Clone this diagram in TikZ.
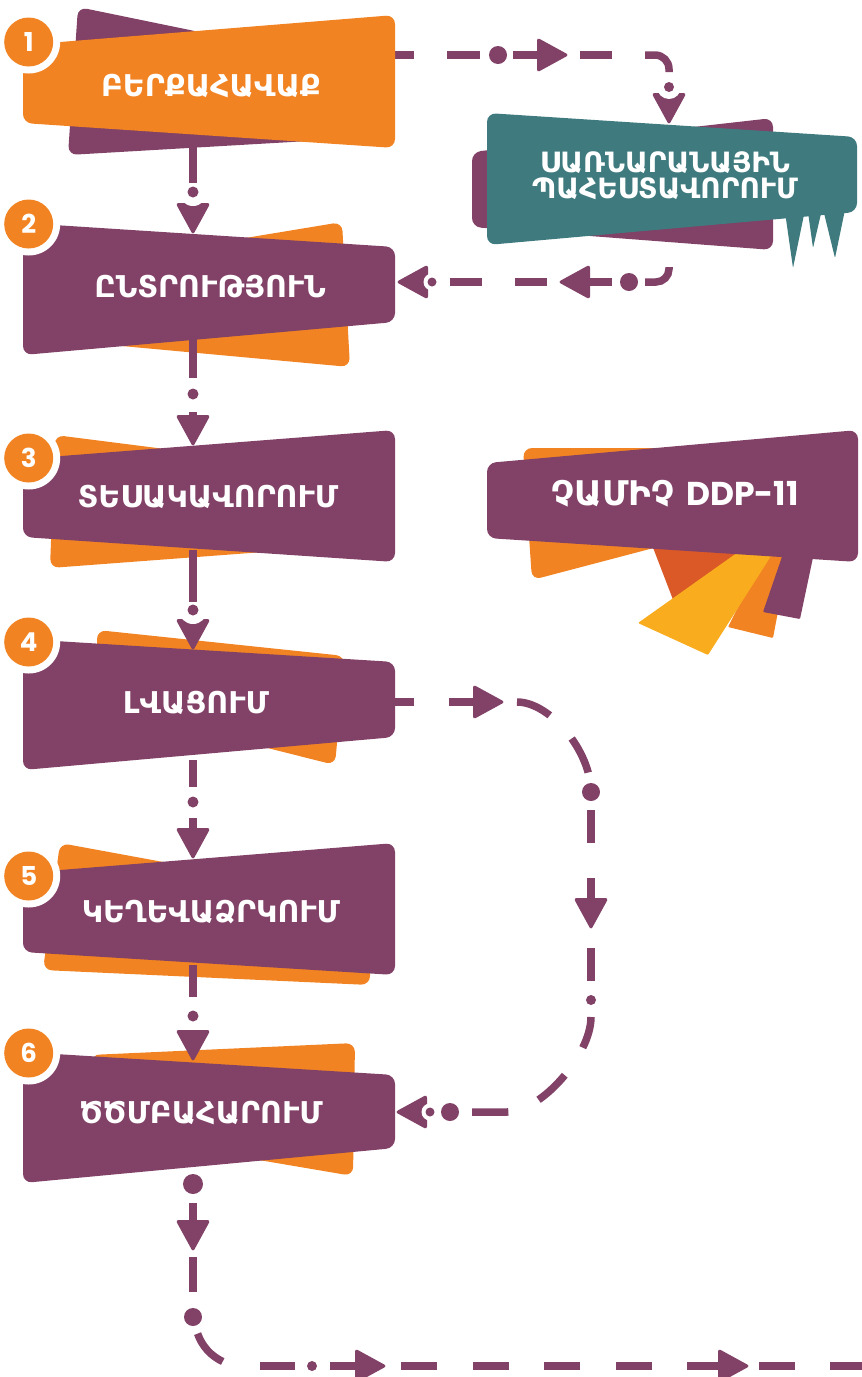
\documentclass[tikz,border=0pt]{standalone}
\usepackage{fontspec}
\newfontfamily\armf{DejaVu Sans}
\newfontfamily\numf{Poppins}
\definecolor{pur}{RGB}{130,65,103}
\definecolor{org}{RGB}{242,131,34}
\definecolor{tea}{RGB}{62,122,126}
\definecolor{dorg}{RGB}{218,89,39}
\definecolor{yel}{RGB}{248,172,30}
\tikzset{
  rc/.style={rounded corners=9pt},
  conn/.style={draw=pur, line width=7.5pt},
  boxtext/.style={text=white, inner sep=0pt, font=\armf\bfseries\fontsize{30}{32}\selectfont},
  tealtext/.style={text=white, inner sep=0pt, font=\armf\bfseries\fontsize{28}{30}\selectfont},
  ddptext/.style={text=white, inner sep=0pt, font=\armf\bfseries\fontsize{34}{36}\selectfont},
  numtext/.style={text=white, inner sep=0pt, font=\numf\bfseries\fontsize{26}{28}\selectfont},
}
\newcommand\sharrow[2]{%
  \fill[pur, rounded corners=3pt, shift={#1}, rotate=#2] (2,0) -- (-30,-17.5) -- (-30,17.5) -- cycle;}
\newcommand\ntarrow[5]{%
  \begin{scope}[shift={#1}, rotate=#2]
    \fill[pur, rounded corners=3pt] (2,0) -- (-30,-17.5) -- (-30,17.5) -- cycle;
    \fill[white] (-#3,0) circle[radius=#5];
    \fill[pur] (-#3,0) circle[radius=#4];
  \end{scope}}
\newcommand\stepnum[2]{%
  \fill[white] #1 circle[radius=31.5];
  \fill[org] #1 circle[radius=24.5];
  \node[numtext] at #1 {#2};}
\begin{document}
\begin{tikzpicture}[x=1pt,y=-1pt]
\useasboundingbox (0,0) rectangle (862,1377);
% ---------- back shapes ----------
\fill[pur, rc] (78,7) -- (360,65) -- (360,138) -- (68,155) -- cycle;
\fill[org, rc] (100,262) -- (342,222) -- (350,367) -- (100,344) -- cycle;
\fill[org, rc] (55,435) -- (330,470) -- (330,547) -- (50,568) -- cycle;
\fill[org, rc] (97,630) -- (345,656) -- (335,765) -- (97,705) -- cycle;
\fill[org, rc] (60,843) -- (370,900) -- (370,985) -- (43,970) -- cycle;
\fill[org, rc] (90,1055) -- (355,1043) -- (353,1176) -- (200,1150) -- cycle;
\fill[pur, rc] (472,152) -- (773,118) -- (773,250) -- (472,227) -- cycle;
% fan pieces
\fill[dorg, rounded corners=1pt] (652,545) -- (750,545) -- (677,610) -- cycle;
\fill[org, rounded corners=1pt] (768,548) -- (790,548) -- (773,638) -- (728,627) -- cycle;
\fill[yel, rounded corners=1pt] (638,623) -- (748,545) -- (778,545) -- (708,655) -- cycle;
\fill[pur, rounded corners=1pt] (785,548) -- (815,548) -- (800,619) -- (763,612) -- cycle;
\fill[org, rc] (523,448) -- (760,448) -- (760,520) -- (532,580) -- cycle;
% ---------- connectors ----------
% 1 -> 2
\ntarrow{(193,233)}{-90}{41}{5.5}{14}
\draw[conn] (193,140) -- (193,183);
% 2 -> 3
\fill[pur] (193,394) circle[radius=5.5];
\draw[conn] (193,330) -- (193,378);
\draw[conn] (193,412) -- (193,430);
\sharrow{(193,445)}{-90}
% 3 -> 4
\ntarrow{(193,649)}{-90}{39}{5.5}{14}
\draw[conn] (193,550) -- (193,602);
% 4 -> 5
\draw[conn] (193,760) -- (193,787);
\fill[pur] (193,802) circle[radius=5.5];
\draw[conn] (193,818) -- (193,845);
\sharrow{(193,858)}{-90}
% 5 -> 6
\ntarrow{(193,1060)}{-90}{44}{5.5}{14}
\draw[conn] (193,965) -- (193,997);
% 6 -> out
\fill[pur] (193,1184) circle[radius=10];
\draw[conn] (193,1203) -- (193,1235);
\sharrow{(193,1250)}{-90}
\draw[conn] (193,1257) -- (193,1292);
\fill[pur] (193,1317) circle[radius=9];
\draw[conn] (243,1318) ++(161:48) arc[start angle=161, end angle=115, radius=48];
\draw[conn] (260,1366) -- (295,1366);
\fill[pur] (312,1366) circle[radius=5];
\draw[conn] (330,1366) -- (370,1366);
\sharrow{(385,1366)}{0}
\foreach \a in {401,473,544,616}{\draw[conn] (\a,1366) -- ++(36,0);}
\draw[conn] (687,1366) -- (733,1366);
\sharrow{(748,1366)}{0}
\draw[conn] (759,1366) -- (795,1366);
\draw[conn] (830,1366) -- (862,1366);
% 1 -> teal
\draw[conn] (380,55) -- (414,55);
\draw[conn] (447,55) -- (480,55);
\fill[pur] (498,55) circle[radius=9];
\draw[conn] (513,55) -- (552,55);
\sharrow{(567,55)}{0}
\draw[conn] (580,55) -- (612,55);
\ntarrow{(669,123)}{-90}{36}{5}{12}
\draw[conn, rounded corners=14pt] (645,55) -| (669,72);
% teal -> 2
\draw[conn, rounded corners=13pt] (669,267) |- (645,282);
\fill[pur] (629,282) circle[radius=9];
\draw[conn] (612,282) -- (575,282);
\sharrow{(560,282)}{180}
\draw[conn] (547,282) -- (515,282);
\draw[conn] (482,282) -- (450,282);
\ntarrow{(398,282)}{180}{34}{4.5}{8.5}
% 4 -> 6 loop
\draw[conn] (380,702) -- (414,702);
\draw[conn] (449,702) -- (488,702);
\sharrow{(503,702)}{0}
\draw[conn, dash pattern=on 36pt off 32pt on 38pt off 200pt] (517,702) .. controls (550,702) and (591,751) .. (591,792);
\fill[pur] (591,792) circle[radius=9];
\draw[conn] (591,810) -- (591,843);
\draw[conn] (591,878) -- (591,913);
\sharrow{(591,928)}{-90}
\draw[conn] (591,948) -- (591,981);
\fill[pur] (591,1000) circle[radius=5];
\draw[conn, dash pattern=on 32pt off 33pt on 36pt off 33pt on 40pt] (591,1017) .. controls (591,1055) and (541,1112) .. (507,1112) -- (472,1112);
\fill[pur] (450,1112) circle[radius=9];
\ntarrow{(397,1112)}{180}{33}{4.5}{8.5}
% ---------- front boxes ----------
\fill[org, rc] (23,45) -- (395,15) -- (395,148) -- (23,123) -- cycle;
\fill[pur, rc] (23,223) -- (395,247) -- (395,322) -- (23,355) -- cycle;
\fill[pur, rc] (23,459) -- (395,430) -- (395,562) -- (23,537) -- cycle;
\fill[pur, rc] (23,639) -- (395,662) -- (395,737) -- (23,770) -- cycle;
\fill[pur, rc] (23,873) -- (395,843) -- (395,975) -- (23,952) -- cycle;
\fill[pur, rc] (23,1052) -- (395,1075) -- (395,1148) -- (23,1183) -- cycle;
% teal
\fill[tea, rc] (487,113) -- (857,137) -- (857,212) -- (487,245) -- cycle;
\fill[tea, rounded corners=1pt] (784,205) -- (806,205) -- (793,268) -- cycle;
\fill[tea, rounded corners=1pt] (807,205) -- (823,205) -- (813,248) -- cycle;
\fill[tea, rounded corners=1pt] (822,205) -- (846,205) -- (835,258) -- cycle;
% DDP
\fill[pur, rc] (487,463) -- (858,430) -- (858,562) -- (487,538) -- cycle;
% ---------- numbers ----------
\stepnum{(28.7,42)}{1}
\stepnum{(28.7,224)}{2}
\stepnum{(28.7,458)}{3}
\stepnum{(28.7,642)}{4}
\stepnum{(28.7,876)}{5}
\stepnum{(28.7,1053)}{6}
% ---------- texts ----------
\node[boxtext] (t1) at (211,86) {ԲԵՐՔԱՀԱՎԱՔ};
\node[boxtext] (t2) at (210,287) {ԸՆՏՐՈՒԹՅՈՒՆ};
\node[boxtext] (t3) at (208,497) {ՏԵՍԱԿԱՎՈՐՈՒՄ};
\node[boxtext] (t4) at (196,703) {ԼՎԱՑՈՒՄ};
\node[boxtext] (t5) at (211,912) {ԿԵՂԵՎԱՁՐԿՈՒՄ};
\node[boxtext] (t6) at (201,1113) {ԾԾՄԲԱՀԱՐՈՒՄ};
\node[tealtext] (tt1) at (665,163) {ՍԱՌՆԱՐԱՆԱՅԻՆ};
\node[tealtext] (tt2) at (665,189) {ՊԱՀԵՍՏԱՎՈՐՈՒՄ};
\node[ddptext] (td) at (675,494) {ՉԱՄԻՉ {\numf\bfseries\fontsize{33}{36}\selectfont DDP-11}};
\end{tikzpicture}
\end{document}
